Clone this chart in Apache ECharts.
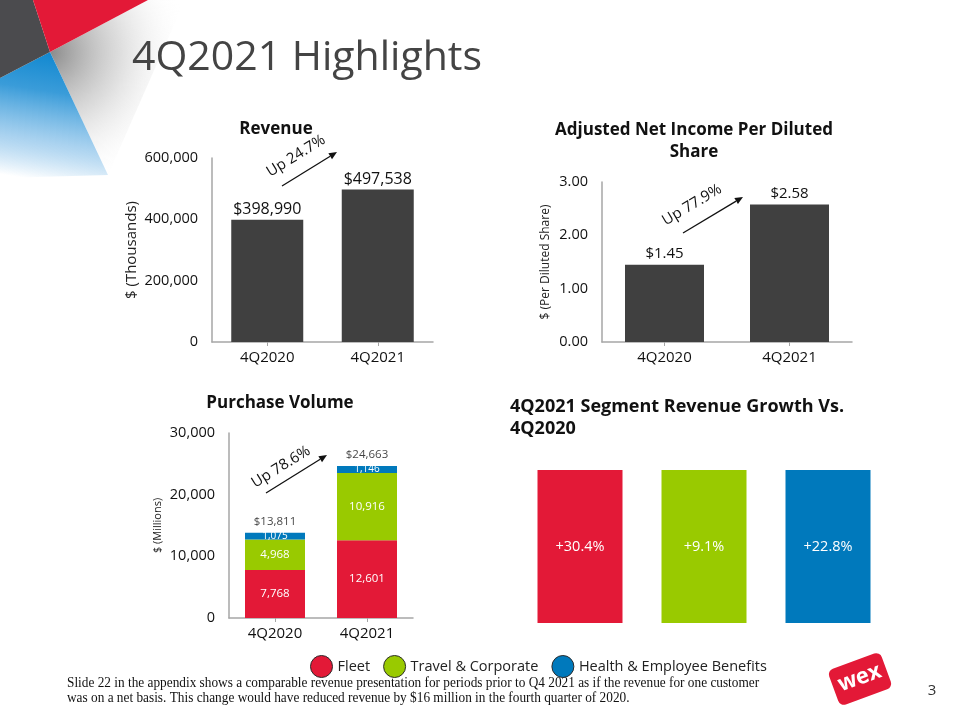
<!DOCTYPE html>
<html>
<head>
<meta charset="utf-8">
<script src="https://cdn.jsdelivr.net/npm/echarts@6/dist/echarts.min.js"></script>
<style>
  html, body { margin: 0; padding: 0; background: #fff; }
  #main { width: 960px; height: 720px; }
</style>
</head>
<body>
<div id="main"></div>
<script type="text/javascript">
// 数据
var quarters = ['4Q2020', '4Q2021'];
var revenue = [398990, 497538];
var revenueTicks = [0, 200000, 400000, 600000];
var epsValues = [1.45, 2.58];
var segments = ['Fleet', 'Travel & Corporate', 'Health & Employee Benefits'];
var segmentColors = ['#e31937', '#99ca00', '#0079bc'];
var fleetVol = [7768, 12601];
var travelVol = [4968, 10916];
var healthVol = [1075, 1146];
var totalVol = [13811, 24663];
var segmentGrowth = [30.4, 9.1, 22.8];
var segmentTile = [1, 1, 1];

var FONT = '"Open Sans", "Noto Sans", sans-serif';
var AXIS_GRAY = '#a6a6a6';

function fmt(v) { return v.toLocaleString('en-US'); }

var chart = echarts.init(document.getElementById('main'));

function valueAxis(gridIndex, max, interval, name, nameGap, nameSize, labelFmt) {
  return {
    type: 'value', gridIndex: gridIndex, min: 0, max: max, interval: interval,
    name: name, nameLocation: 'middle', nameRotate: 90, nameGap: nameGap,
    nameTextStyle: { fontFamily: FONT, fontSize: nameSize, color: '#222' },
    axisLine: { show: true, lineStyle: { color: AXIS_GRAY, width: 1.5 } },
    axisTick: { show: false },
    splitLine: { show: false },
    axisLabel: { fontFamily: FONT, fontSize: 14.5, color: '#111', margin: 14, formatter: labelFmt }
  };
}
function catAxis(gridIndex) {
  return {
    type: 'category', gridIndex: gridIndex, data: quarters,
    axisLine: { lineStyle: { color: AXIS_GRAY, width: 1.5 } },
    axisTick: { show: true, alignWithLabel: true, length: 4, lineStyle: { color: AXIS_GRAY } },
    axisLabel: { fontFamily: FONT, fontSize: 15, color: '#111', margin: 8 }
  };
}

// 箭头 + 旋转文字
function upArrow(x1, y1, x2, y2, text, tx, ty) {
  var ang = Math.atan2(y1 - y2, x2 - x1);
  var hl = 8, hw = 3.5;
  var ux = Math.cos(ang), uy = -Math.sin(ang);
  var bx = x2 - ux * hl, by = y2 - uy * hl;
  return [
    { type: 'line', shape: { x1: x1, y1: y1, x2: bx, y2: by }, style: { stroke: '#111', lineWidth: 1.3 } },
    { type: 'polygon', shape: { points: [[x2, y2], [bx - uy * hw, by + ux * hw], [bx + uy * hw, by - ux * hw]] }, style: { fill: '#111' } },
    { type: 'text', x: tx, y: ty, rotation: ang,
      style: { text: text, fontFamily: FONT, fontSize: 15, fill: '#111', align: 'center', verticalAlign: 'middle' } }
  ];
}

var graphics = [
  // 左上角装饰
  { type: 'polygon', shape: { points: [[50, 52], [148, 0], [185, 0], [108, 175]] },
    style: { fill: new echarts.graphic.RadialGradient(50, 52, 140, [
      { offset: 0, color: '#8a8a8a' }, { offset: 0.5, color: 'rgba(200,200,200,0.6)' }, { offset: 1, color: 'rgba(255,255,255,0)' }], true) } },
  { type: 'polygon', shape: { points: [[50, 52], [0, 78], [0, 178], [108, 175]] },
    style: { fill: new echarts.graphic.LinearGradient(45, 52, 25, 178, [
      { offset: 0, color: '#1188d0' }, { offset: 0.3, color: '#3a9cd9' }, { offset: 0.7, color: 'rgba(150,200,236,0.8)' }, { offset: 1, color: 'rgba(255,255,255,1)' }], true) } },
  { type: 'polygon', shape: { points: [[0, 0], [33, 0], [50, 52], [0, 78]] }, style: { fill: '#4b4b4e' } },
  { type: 'polygon', shape: { points: [[33, 0], [148, 0], [50, 52]] }, style: { fill: '#e31937' } },

  // 注脚
  { type: 'text', x: 67, y: 676, scaleX: 0.95,
    style: { text: 'Slide 22 in the appendix shows a comparable revenue presentation for periods prior to Q4 2021 as if the revenue for one customer\nwas on a net basis. This change would have reduced revenue by $16 million in the fourth quarter of 2020.',
      fontFamily: '"Liberation Serif", "Times New Roman", serif', fontSize: 14, lineHeight: 15, fill: '#111' } },

  // 标志
  { type: 'group', x: 860, y: 679, rotation: 0.35, children: [
    { type: 'rect', shape: { x: -28, y: -19, width: 56, height: 38, r: 6 }, style: { fill: '#e31937' } },
    { type: 'text', x: 0, y: -1, style: { text: 'wex', fontFamily: FONT, fontWeight: 'bold', fontSize: 22, fill: '#fff', align: 'center', verticalAlign: 'middle' } }
  ] },
  { type: 'text', x: 932, y: 691, style: { text: '3', fontFamily: FONT, fontSize: 15, fill: '#333', align: 'center', verticalAlign: 'middle' } }
]
  .concat(upArrow(282, 186, 337, 152, 'Up 24.7%', 296, 156))
  .concat(upArrow(683, 233, 743, 197, 'Up 77.9%', 692, 205))
  .concat(upArrow(266, 493, 327, 455, 'Up 78.6%', 281, 467));

var option = {
  animation: false,
  title: [
    { text: '4Q2021 Highlights', left: 132, top: 38, padding: 0,
      textStyle: { fontFamily: FONT, fontWeight: 'normal', fontSize: 41, color: '#444' } },
    { text: 'Revenue', left: 276, top: 121, padding: 0, textAlign: 'center',
      textStyle: { fontFamily: FONT, fontWeight: 'bold', fontSize: 17, color: '#111' } },
    { text: 'Adjusted Net Income Per Diluted\nShare', left: 694, top: 119, padding: 0, textAlign: 'center',
      textStyle: { fontFamily: FONT, fontWeight: 'bold', fontSize: 17, lineHeight: 22, color: '#111' } },
    { text: 'Purchase Volume', left: 280, top: 395, padding: 0, textAlign: 'center',
      textStyle: { fontFamily: FONT, fontWeight: 'bold', fontSize: 17, color: '#111' } },
    { text: '4Q2021 Segment Revenue Growth Vs.\n4Q2020', left: 510, top: 396, padding: 0,
      textStyle: { fontFamily: FONT, fontWeight: 'bold', fontSize: 18, lineHeight: 22, color: '#111' } }
  ],
  legend: {
    data: segments, left: 305, top: 650, icon: 'circle', itemWidth: 22, itemHeight: 22, itemGap: 13,
    selectedMode: false,
    itemStyle: { borderColor: '#2b2b2b', borderWidth: 1 },
    textStyle: { fontFamily: FONT, fontSize: 14.5, color: '#222' }
  },
  grid: [
    { left: 212, top: 158, width: 221, height: 184 },
    { left: 602, top: 182, width: 250, height: 160 },
    { left: 229, top: 433, width: 184, height: 185 },
    { left: 518, top: 470, width: 372, height: 153 }
  ],
  xAxis: [
    catAxis(0), catAxis(1), catAxis(2),
    { type: 'category', gridIndex: 3, data: segments, show: false }
  ],
  yAxis: [
    valueAxis(0, revenueTicks[revenueTicks.length - 1], revenueTicks[1], '$ (Thousands)', 73, 15, function (v) { return fmt(v); }),
    valueAxis(1, 3, 1, '$ (Per Diluted Share)', 50, 12, function (v) { return v.toFixed(2); }),
    valueAxis(2, 30000, 10000, '$ (Millions)', 66, 11, function (v) { return fmt(v); }),
    { type: 'value', gridIndex: 3, min: 0, max: 1, show: false }
  ],
  series: [
    {
      type: 'bar', xAxisIndex: 0, yAxisIndex: 0, data: revenue, barWidth: 72,
      itemStyle: { color: '#404040' },
      label: { show: true, position: 'top', distance: 2, fontFamily: FONT, fontSize: 16, color: '#111',
        formatter: function (p) { return '$' + fmt(p.value); } }
    },
    {
      type: 'bar', xAxisIndex: 1, yAxisIndex: 1, data: epsValues, barWidth: 79,
      itemStyle: { color: '#404040' },
      label: { show: true, position: 'top', distance: 3, fontFamily: FONT, fontSize: 15, color: '#111',
        formatter: function (p) { return '$' + p.value.toFixed(2); } }
    },
    {
      name: segments[0], type: 'bar', stack: 'vol', xAxisIndex: 2, yAxisIndex: 2, data: fleetVol, barWidth: 60,
      itemStyle: { color: segmentColors[0] },
      label: { show: true, position: 'inside', fontFamily: FONT, fontSize: 11.5, color: '#fff',
        formatter: function (p) { return fmt(p.value); } }
    },
    {
      name: segments[1], type: 'bar', stack: 'vol', xAxisIndex: 2, yAxisIndex: 2, data: travelVol, barWidth: 60,
      itemStyle: { color: segmentColors[1] },
      label: { show: true, position: 'inside', fontFamily: FONT, fontSize: 11.5, color: '#fff',
        formatter: function (p) { return fmt(p.value); } }
    },
    {
      name: segments[2], type: 'bar', stack: 'vol', xAxisIndex: 2, yAxisIndex: 2, data: healthVol, barWidth: 60,
      itemStyle: { color: segmentColors[2] },
      label: { show: true, position: 'inside', fontFamily: FONT, fontSize: 10, color: '#fff',
        formatter: function (p) { return fmt(p.value); } }
    },
    {
      type: 'scatter', xAxisIndex: 2, yAxisIndex: 2, data: totalVol, symbolSize: 0, silent: true,
      label: { show: true, position: 'top', distance: 5, fontFamily: FONT, fontSize: 11.5, color: '#111',
        formatter: function (p) { return '$' + fmt(p.value); } }
    },
    {
      type: 'bar', xAxisIndex: 3, yAxisIndex: 3, data: segmentTile, barWidth: 85,
      itemStyle: { color: function (p) { return segmentColors[p.dataIndex]; } },
      label: { show: true, position: 'inside', fontFamily: FONT, fontSize: 14.5, color: '#fff',
        formatter: function (p) { return '+' + segmentGrowth[p.dataIndex].toFixed(1) + '%'; } }
    }
  ],
  graphic: graphics
};

chart.setOption(option);
</script>
</body>
</html>
